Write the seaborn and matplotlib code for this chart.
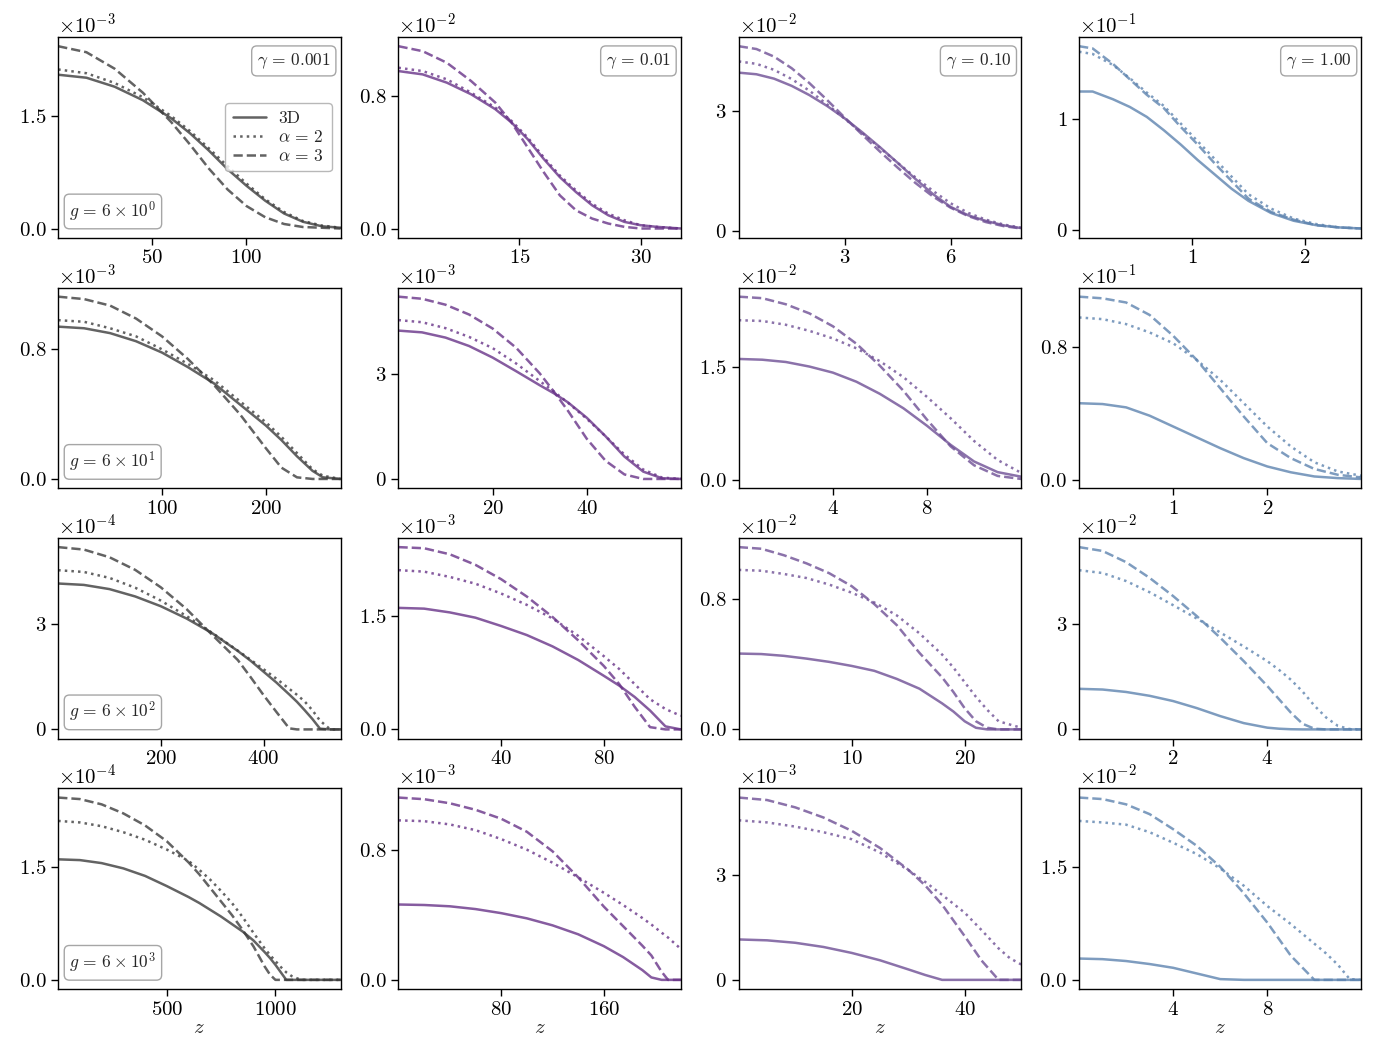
import numpy as np
import matplotlib
matplotlib.use("Agg")
import matplotlib.pyplot as plt
import seaborn as sns

# --- values (each curve in units of its panel's 10^exp) ---
z_r0c0 = [0, 15, 30, 45, 60, 70, 80, 90, 100, 110, 120, 130, 140, 150]
d3_r0c0 = [2.05, 2.01, 1.89, 1.71, 1.47, 1.27, 1.04, 0.79, 0.57, 0.37, 0.20, 0.09, 0.03, 0.01]
a2_r0c0 = [2.12, 2.07, 1.94, 1.75, 1.50, 1.30, 1.07, 0.83, 0.60, 0.39, 0.22, 0.10, 0.04, 0.01]
a3_r0c0 = [2.43, 2.35, 2.13, 1.81, 1.42, 1.12, 0.80, 0.52, 0.30, 0.15, 0.06, 0.02, 0.01, 0.0]

z_r0c1 = [0, 3, 6, 9, 12, 14, 16, 18, 20, 22, 24, 26, 28, 30, 32, 35]
d3_r0c1 = [0.95, 0.93, 0.88, 0.81, 0.72, 0.64, 0.54, 0.42, 0.31, 0.22, 0.14, 0.08, 0.04, 0.02, 0.01, 0.0]
a2_r0c1 = [0.97, 0.95, 0.90, 0.82, 0.73, 0.65, 0.55, 0.43, 0.32, 0.23, 0.15, 0.09, 0.05, 0.02, 0.01, 0.0]
a3_r0c1 = [1.10, 1.07, 1.00, 0.89, 0.76, 0.64, 0.49, 0.34, 0.20, 0.11, 0.06, 0.03, 0.01, 0.0, 0.0, 0.0]

z_r0c2 = [0, 0.5, 1, 1.5, 2, 2.5, 3, 3.5, 4, 4.5, 5, 5.5, 6, 6.5, 7, 7.5, 8]
d3_r0c2 = [3.95, 3.91, 3.80, 3.62, 3.39, 3.12, 2.81, 2.46, 2.09, 1.70, 1.30, 0.92, 0.60, 0.39, 0.25, 0.14, 0.07]
a2_r0c2 = [4.23, 4.17, 4.02, 3.79, 3.50, 3.16, 2.80, 2.44, 2.07, 1.70, 1.34, 1.00, 0.69, 0.45, 0.28, 0.16, 0.08]
a3_r0c2 = [4.61, 4.54, 4.35, 4.06, 3.69, 3.27, 2.83, 2.40, 1.98, 1.58, 1.20, 0.86, 0.58, 0.37, 0.22, 0.12, 0.06]

z_r0c3 = [0, 0.12, 0.3, 0.45, 0.6, 0.75, 0.9, 1.05, 1.2, 1.35, 1.5, 1.7, 1.9, 2.1, 2.3, 2.5]
d3_r0c3 = [1.25, 1.25, 1.18, 1.11, 1.02, 0.90, 0.77, 0.63, 0.50, 0.37, 0.26, 0.15, 0.08, 0.04, 0.02, 0.01]
a2_r0c3 = [1.61, 1.59, 1.49, 1.37, 1.24, 1.12, 0.96, 0.80, 0.64, 0.48, 0.32, 0.19, 0.10, 0.05, 0.02, 0.01]
a3_r0c3 = [1.66, 1.64, 1.50, 1.36, 1.22, 1.10, 0.93, 0.77, 0.60, 0.44, 0.28, 0.16, 0.09, 0.04, 0.02, 0.01]

z_r1c0 = [0, 25, 50, 75, 100, 125, 150, 175, 200, 215, 230, 245, 255, 272]
d3_r1c0 = [0.94, 0.93, 0.90, 0.85, 0.78, 0.69, 0.59, 0.46, 0.33, 0.24, 0.14, 0.05, 0.01, 0.0]
a2_r1c0 = [0.98, 0.97, 0.93, 0.88, 0.80, 0.71, 0.61, 0.48, 0.35, 0.26, 0.16, 0.06, 0.02, 0.0]
a3_r1c0 = [1.125, 1.11, 1.07, 0.99, 0.88, 0.74, 0.58, 0.40, 0.19, 0.07, 0.01, 0.0, 0.0, 0.0]

z_r1c1 = [0, 5, 10, 15, 20, 25, 30, 33, 36, 40, 44, 48, 52, 56, 60]
d3_r1c1 = [4.24, 4.19, 4.04, 3.80, 3.47, 3.08, 2.68, 2.45, 2.19, 1.75, 1.22, 0.64, 0.21, 0.02, 0.0]
a2_r1c1 = [4.54, 4.48, 4.31, 4.06, 3.74, 3.30, 2.80, 2.50, 2.18, 1.72, 1.22, 0.70, 0.27, 0.04, 0.0]
a3_r1c1 = [5.21, 5.15, 4.98, 4.70, 4.30, 3.75, 3.02, 2.50, 1.95, 1.15, 0.52, 0.13, 0.0, 0.0, 0.0]

z_r1c2 = [0, 1, 2, 3, 4, 5, 6, 7, 8, 9, 10, 11, 12]
d3_r1c2 = [1.60, 1.59, 1.56, 1.50, 1.42, 1.30, 1.14, 0.95, 0.72, 0.47, 0.25, 0.11, 0.05]
a2_r1c2 = [2.11, 2.10, 2.05, 1.97, 1.87, 1.74, 1.57, 1.36, 1.10, 0.82, 0.52, 0.27, 0.10]
a3_r1c2 = [2.42, 2.40, 2.32, 2.20, 2.03, 1.80, 1.51, 1.18, 0.80, 0.45, 0.20, 0.06, 0.02]

z_r1c3 = [0, 0.25, 0.5, 0.75, 1.0, 1.25, 1.5, 1.75, 2.0, 2.25, 2.5, 2.75, 3.0]
d3_r1c3 = [0.46, 0.455, 0.435, 0.385, 0.32, 0.255, 0.19, 0.13, 0.08, 0.045, 0.02, 0.01, 0.005]
a2_r1c3 = [0.975, 0.965, 0.935, 0.885, 0.82, 0.72, 0.60, 0.46, 0.32, 0.20, 0.105, 0.05, 0.024]
a3_r1c3 = [1.10, 1.09, 1.065, 0.99, 0.865, 0.72, 0.55, 0.38, 0.22, 0.13, 0.065, 0.03, 0.014]

z_r2c0 = [0, 50, 100, 150, 200, 250, 300, 350, 375, 400, 425, 450, 465, 480, 495, 510, 530, 550]
d3_r2c0 = [4.17, 4.13, 4.01, 3.80, 3.52, 3.17, 2.75, 2.24, 1.96, 1.65, 1.34, 1.00, 0.79, 0.55, 0.30, 0.02, 0.0, 0.0]
a2_r2c0 = [4.55, 4.50, 4.33, 4.05, 3.68, 3.24, 2.76, 2.25, 1.99, 1.72, 1.45, 1.16, 0.99, 0.80, 0.55, 0.25, 0.0, 0.0]
a3_r2c0 = [5.21, 5.14, 4.92, 4.56, 4.06, 3.44, 2.70, 1.98, 1.49, 0.98, 0.50, 0.03, 0.0, 0.0, 0.0, 0.0, 0.0, 0.0]

z_r2c1 = [0, 10, 20, 30, 40, 50, 60, 70, 80, 86, 92, 98, 104, 110]
d3_r2c1 = [1.61, 1.60, 1.55, 1.48, 1.37, 1.25, 1.10, 0.92, 0.71, 0.58, 0.43, 0.25, 0.04, 0.0]
a2_r2c1 = [2.11, 2.09, 2.02, 1.93, 1.80, 1.65, 1.47, 1.24, 0.97, 0.80, 0.60, 0.40, 0.27, 0.18]
a3_r2c1 = [2.415, 2.40, 2.32, 2.18, 1.99, 1.76, 1.49, 1.18, 0.84, 0.60, 0.30, 0.03, 0.0, 0.0]

z_r2c2 = [0, 2, 4, 6, 8, 10, 12, 14, 16, 18, 19, 20, 21, 22, 23, 25]
d3_r2c2 = [0.466, 0.463, 0.452, 0.435, 0.415, 0.39, 0.36, 0.31, 0.25, 0.16, 0.11, 0.05, 0.01, 0.0, 0.0, 0.0]
a2_r2c2 = [0.98, 0.975, 0.955, 0.93, 0.89, 0.84, 0.78, 0.70, 0.59, 0.46, 0.38, 0.29, 0.20, 0.12, 0.05, 0.01]
a3_r2c2 = [1.12, 1.11, 1.07, 1.02, 0.96, 0.88, 0.77, 0.64, 0.47, 0.32, 0.23, 0.13, 0.05, 0.01, 0.0, 0.0]

z_r2c3 = [0, 0.5, 1, 1.5, 2, 2.5, 3, 3.5, 4, 4.25, 4.5, 4.75, 5, 5.25, 5.5, 5.75, 6]
d3_r2c3 = [1.16, 1.14, 1.07, 0.96, 0.81, 0.61, 0.38, 0.18, 0.05, 0.02, 0.005, 0, 0, 0, 0, 0, 0]
a2_r2c3 = [4.55, 4.47, 4.24, 3.92, 3.55, 3.17, 2.77, 2.37, 1.95, 1.70, 1.42, 1.08, 0.68, 0.34, 0.10, 0.01, 0.0]
a3_r2c3 = [5.21, 5.10, 4.78, 4.33, 3.81, 3.24, 2.62, 1.95, 1.24, 0.86, 0.48, 0.16, 0.02, 0.0, 0.0, 0.0, 0.0]

z_r3c0 = [0, 100, 200, 300, 400, 500, 600, 650, 700, 750, 800, 850, 900, 950, 975, 1000,
          1025, 1050, 1075, 1100, 1120, 1200, 1300]
d3_r3c0 = [1.60, 1.59, 1.55, 1.48, 1.38, 1.245, 1.10, 1.02, 0.93, 0.84, 0.74, 0.64, 0.52, 0.37,
           0.29, 0.20, 0.10, 0.0, 0.0, 0.0, 0.0, 0.0, 0.0]
a2_r3c0 = [2.11, 2.09, 2.04, 1.96, 1.86, 1.73, 1.58, 1.46, 1.33, 1.18, 1.02, 0.83, 0.62, 0.42,
           0.33, 0.25, 0.17, 0.10, 0.05, 0.02, 0.0, 0.0, 0.0]
a3_r3c0 = [2.42, 2.40, 2.33, 2.21, 2.05, 1.84, 1.56, 1.40, 1.22, 1.04, 0.86, 0.66, 0.44, 0.18,
           0.07, 0.0, 0.0, 0.0, 0.0, 0.0, 0.0, 0.0, 0.0]

z_r3c1 = [0, 20, 40, 60, 80, 100, 120, 140, 160, 175, 190, 197, 205, 210, 220]
d3_r3c1 = [0.463, 0.46, 0.452, 0.435, 0.41, 0.378, 0.335, 0.28, 0.207, 0.14, 0.06, 0.015, 0.0, 0.0, 0.0]
a2_r3c1 = [0.98, 0.975, 0.955, 0.92, 0.865, 0.80, 0.72, 0.63, 0.535, 0.46, 0.38, 0.34, 0.29, 0.26, 0.19]
a3_r3c1 = [1.12, 1.11, 1.085, 1.045, 0.99, 0.91, 0.79, 0.63, 0.45, 0.33, 0.21, 0.15, 0.05, 0.0, 0.0]

z_r3c2 = [0, 5, 10, 15, 20, 25, 30, 33, 36, 40, 43, 46, 48, 50]
d3_r3c2 = [1.155, 1.13, 1.06, 0.94, 0.77, 0.56, 0.30, 0.14, 0.0, 0.0, 0.0, 0.0, 0.0, 0.0]
a2_r3c2 = [4.56, 4.50, 4.38, 4.22, 4.02, 3.64, 3.14, 2.80, 2.43, 1.92, 1.42, 0.90, 0.62, 0.44]
a3_r3c2 = [5.21, 5.14, 4.93, 4.64, 4.26, 3.77, 3.15, 2.70, 2.15, 1.25, 0.55, 0.0, 0.0, 0.0]

z_r3c3 = [0, 1, 2, 3, 4, 5, 6, 7, 8, 9, 10, 10.5, 11, 11.5, 12]
d3_r3c3 = [0.283, 0.275, 0.25, 0.21, 0.16, 0.085, 0.01, 0, 0, 0, 0, 0, 0, 0, 0]
a2_r3c3 = [2.11, 2.09, 2.06, 1.96, 1.82, 1.67, 1.48, 1.25, 0.98, 0.74, 0.48, 0.35, 0.20, 0.01, 0.0]
a3_r3c3 = [2.42, 2.40, 2.33, 2.20, 2.00, 1.78, 1.50, 1.15, 0.76, 0.32, 0.0, 0, 0, 0, 0]

# order of magnitude shown above each panel
exps = [[-3, -2, -2, -1],
        [-3, -3, -2, -1],
        [-4, -3, -2, -2],
        [-4, -3, -3, -2]]
yticks_top = [[1.5, 0.8, 3, 1],
              [0.8, 3, 1.5, 0.8],
              [3, 1.5, 0.8, 3],
              [1.5, 0.8, 3, 1.5]]
xticks = [[[50, 100], [15, 30], [3, 6], [1, 2]],
          [[100, 200], [20, 40], [4, 8], [1, 2]],
          [[200, 400], [40, 80], [10, 20], [2, 4]],
          [[500, 1000], [80, 160], [20, 40], [4, 8]]]
gamma_labels = ["0.001", "0.01", "0.10", "1.00"]
g_powers = [0, 1, 2, 3]
series_labels = ["3D", r"$\alpha\,=\,2$", r"$\alpha\,=\,3$"]
col_colors = ["#3c3c3c", "#683388", "#6e4f95", "#5e84af"]

panels = [
    [(z_r0c0, d3_r0c0, a2_r0c0, a3_r0c0), (z_r0c1, d3_r0c1, a2_r0c1, a3_r0c1),
     (z_r0c2, d3_r0c2, a2_r0c2, a3_r0c2), (z_r0c3, d3_r0c3, a2_r0c3, a3_r0c3)],
    [(z_r1c0, d3_r1c0, a2_r1c0, a3_r1c0), (z_r1c1, d3_r1c1, a2_r1c1, a3_r1c1),
     (z_r1c2, d3_r1c2, a2_r1c2, a3_r1c2), (z_r1c3, d3_r1c3, a2_r1c3, a3_r1c3)],
    [(z_r2c0, d3_r2c0, a2_r2c0, a3_r2c0), (z_r2c1, d3_r2c1, a2_r2c1, a3_r2c1),
     (z_r2c2, d3_r2c2, a2_r2c2, a3_r2c2), (z_r2c3, d3_r2c3, a2_r2c3, a3_r2c3)],
    [(z_r3c0, d3_r3c0, a2_r3c0, a3_r3c0), (z_r3c1, d3_r3c1, a2_r3c1, a3_r3c1),
     (z_r3c2, d3_r3c2, a2_r3c2, a3_r3c2), (z_r3c3, d3_r3c3, a2_r3c3, a3_r3c3)],
]

sns.set_style("ticks")
plt.rcParams["font.family"] = "serif"
plt.rcParams["font.serif"] = ["cmr10", "DejaVu Serif"]
plt.rcParams["mathtext.fontset"] = "cm"
plt.rcParams["axes.formatter.use_mathtext"] = True
plt.rcParams["axes.edgecolor"] = "black"
plt.rcParams["xtick.color"] = "black"
plt.rcParams["ytick.color"] = "black"
plt.rcParams["axes.linewidth"] = 1.0

fig, axes = plt.subplots(4, 4, figsize=(13.85, 10.6), dpi=100)
fig.subplots_adjust(left=0.042, right=0.983, top=0.965, bottom=0.067,
                    wspace=0.205, hspace=0.249)

styles = ["-", ":", "--"]
box = dict(boxstyle="round,pad=0.3", fc="white", ec="0.65", lw=1.0)

for r in range(4):
    for c in range(4):
        ax = axes[r, c]
        z, d3, a2, a3 = panels[r][c]
        scale = 10.0 ** exps[r][c]
        for vals, ls, lab in zip((d3, a2, a3), styles, series_labels):
            sns.lineplot(x=np.array(z), y=np.array(vals) * scale, ax=ax,
                         color=col_colors[c], linestyle=ls, lw=1.8, alpha=0.8,
                         label=lab if (r == 0 and c == 0) else None)
        ax.set_xlim(z[0], z[-1])
        ax.set_xticks(xticks[r][c])
        ax.set_yticks([0, yticks_top[r][c] * scale])
        ax.ticklabel_format(axis="y", style="sci",
                            scilimits=(exps[r][c], exps[r][c]), useMathText=True)
        ax.tick_params(labelsize=15, direction="out", length=5, width=1.0)
        ax.yaxis.get_offset_text().set_fontsize(15)
        ax.set_ylabel("")
        ax.set_xlabel(r"$z$" if r == 3 else "", fontsize=15, labelpad=0)
        for sp in ax.spines.values():
            sp.set_visible(True)
        if r == 0:
            ax.text(0.965, 0.93, r"$\gamma\,=\,%s$" % gamma_labels[c],
                    transform=ax.transAxes, ha="right", va="top",
                    fontsize=12.5, bbox=box)
        if c == 0:
            ax.text(0.04, 0.07, r"$g\,=\,6 \times 10^{%d}$" % g_powers[r],
                    transform=ax.transAxes, ha="left", va="bottom",
                    fontsize=12.5, bbox=box)
        if r == 0 and c == 0:
            ax.legend(loc="center right", fontsize=12.5, handlelength=1.9,
                      borderpad=0.45, labelspacing=0.15, handletextpad=0.7,
                      frameon=True, fancybox=True, edgecolor="0.65")
        elif ax.get_legend() is not None:
            ax.get_legend().remove()

fig.savefig("out.png", dpi=100)
